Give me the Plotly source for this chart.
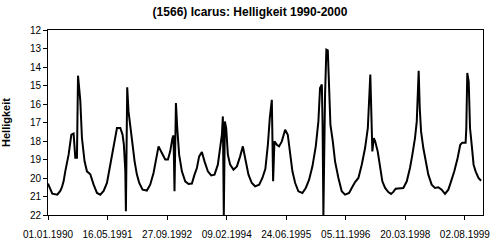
import pandas as pd
import plotly.graph_objects as go

# Tage seit 01.01.1990
day_offset = [
    0, 19, 36, 78, 103, 117, 131, 145, 173, 196, 215, 229, 243, 252, 260, 271, 285, 307, 327, 355,
    383, 411, 439, 467, 495, 523, 551, 579, 607, 626, 637, 649, 654, 665, 676, 690, 710, 727, 746, 766,
    794, 830, 858, 886, 906, 928, 956, 984, 1007, 1026, 1045, 1054, 1062, 1074, 1085, 1101, 1124, 1152, 1180, 1208,
    1230, 1250, 1269, 1292, 1314, 1342, 1370, 1398, 1426, 1445, 1460, 1468, 1476, 1485, 1496, 1510, 1529, 1557, 1586, 1613,
    1636, 1655, 1683, 1711, 1739, 1773, 1800, 1825, 1846, 1862, 1879, 1890, 1901, 1921, 1940, 1963, 1991, 2013, 2033, 2052,
    2075, 2102, 2136, 2164, 2192, 2220, 2248, 2270, 2284, 2299, 2305, 2312, 2326, 2337, 2349, 2360, 2371, 2391, 2410, 2438,
    2466, 2494, 2528, 2550, 2578, 2606, 2634, 2662, 2685, 2698, 2706, 2715, 2723, 2735, 2746, 2768, 2788, 2807, 2830, 2857,
    2880, 2899, 2919, 2955, 2983, 3012, 3039, 3059, 3081, 3096, 3104, 3112, 3121, 3132, 3151, 3171, 3193, 3221, 3249, 3277,
    3305, 3333, 3361, 3384, 3411, 3439, 3461, 3478, 3506, 3512, 3520, 3532, 3543, 3557, 3573, 3590, 3614, 3636,
]
helligkeit = [
    20.3, 20.65, 20.85, 20.9, 20.7, 20.5, 20.18, 19.64, 18.74, 17.66, 17.6, 18.9, 18.9, 14.47, 15.06, 15.8, 17.84, 19.1, 19.64, 19.8,
    20.36, 20.81, 20.9, 20.7, 20.27, 19.28, 18.1, 17.3, 17.3, 17.66, 18.2, 19.6, 21.8, 15.1, 16.4, 17.3, 18.2, 19.1, 19.8, 20.27,
    20.63, 20.68, 20.36, 19.73, 19.1, 18.29, 18.65, 19.0, 19.0, 18.56, 17.84, 17.7, 20.72, 15.95, 17.3, 18.74, 19.64, 20.18, 20.32, 20.3,
    19.82, 19.46, 18.83, 18.6, 19.1, 19.64, 19.86, 19.82, 19.28, 18.38, 17.66, 16.67, 22.0, 16.94, 17.3, 18.74, 19.28, 19.55, 19.37, 18.83,
    18.29, 18.92, 19.82, 20.27, 20.45, 20.36, 20.0, 19.5, 18.2, 16.76, 15.77, 20.18, 18.02, 18.2, 18.29, 18.02, 17.39, 17.66, 18.74, 19.64,
    20.27, 20.72, 20.81, 20.54, 20.09, 19.37, 18.29, 16.94, 15.14, 14.95, 17.0, 22.0, 15.5, 13.06, 13.1, 15.14, 17.12, 18.02, 19.1, 20.0,
    20.72, 20.9, 20.81, 20.54, 20.22, 20.0, 19.28, 18.38, 17.3, 15.5, 14.41, 16.58, 18.56, 17.84, 18.0, 18.56, 19.5, 20.18, 20.54, 20.76,
    20.86, 20.75, 20.58, 20.58, 20.54, 20.18, 19.46, 18.74, 17.84, 16.94, 15.5, 14.2, 16.22, 17.48, 18.38, 19.1, 19.82, 20.36, 20.54, 20.5,
    20.63, 20.86, 20.63, 20.18, 19.64, 18.92, 18.2, 18.1, 18.1, 17.3, 14.32, 14.8, 17.3, 18.2, 19.28, 19.64, 20.0, 20.15,
]

title_text = "(1566) Icarus: Helligkeit 1990-2000"
y_title = "Helligkeit"
start_date = "1990-01-01"
end_date = "2000-01-01"

dates = pd.Timestamp(start_date) + pd.to_timedelta(day_offset, unit="D")

fig = go.Figure()
fig.add_trace(go.Scatter(
    x=dates, y=helligkeit, mode="lines",
    line=dict(color="black", width=2),
    showlegend=False, hoverinfo="skip",
))

font_family = "Liberation Sans, Arial, sans-serif"
fig.update_layout(
    width=500, height=240,
    margin=dict(l=48, r=17, t=30, b=25),
    paper_bgcolor="white", plot_bgcolor="white",
    font=dict(family=font_family, size=10, color="black"),
    title=dict(text="<b>" + title_text + "</b>", x=0.5, xanchor="center",
               y=0.95, yanchor="middle", font=dict(size=12, family=font_family)),
)
fig.update_xaxes(
    type="date",
    range=[start_date, end_date],
    tick0=start_date, dtick=500 * 86400000,
    tickformat="%d.%m.%Y",
    ticks="outside", ticklen=4, tickcolor="black", tickwidth=1,
    ticklabelstandoff=6, automargin=False,
    showline=True, linecolor="black", linewidth=1, mirror=True,
    showgrid=False, zeroline=False,
    tickfont=dict(size=10),
)
fig.update_yaxes(
    range=[22, 12], tick0=12, dtick=1,
    ticks="outside", ticklen=4, tickcolor="black", tickwidth=1,
    showline=True, linecolor="black", linewidth=1, mirror=True,
    showgrid=False, zeroline=False, automargin=False,
    title=dict(text="<b>" + y_title + "</b>", standoff=17, font=dict(size=11)),
    tickfont=dict(size=10),
)

fig.write_html("out.html")
